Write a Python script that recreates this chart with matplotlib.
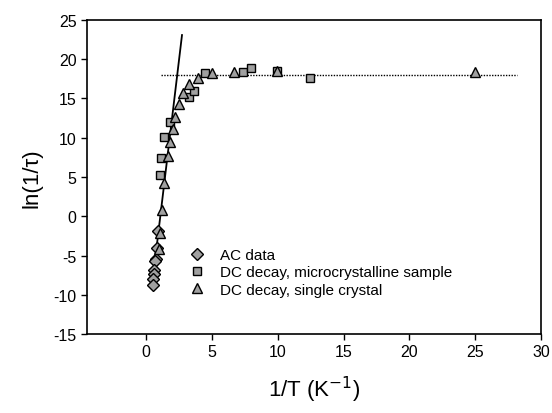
import matplotlib
matplotlib.use("Agg")
import matplotlib.pyplot as plt
import numpy as np

plt.rcParams['font.family'] = ['Liberation Sans', 'DejaVu Sans']
plt.rcParams['axes.unicode_minus'] = False

# AC data (diamonds)
ac_x = [0.89, 0.81, 0.71, 0.66, 0.61, 0.60, 0.55, 0.55]
ac_y = [-1.9, -4.0, -5.4, -5.7, -6.9, -7.4, -8.0, -8.8]

# DC decay, microcrystalline sample (squares)
mc_x = [1.06, 1.16, 1.34, 1.82, 3.24, 3.60, 4.48, 7.39, 7.97, 9.95, 12.48]
mc_y = [5.25, 7.4, 10.1, 12.0, 15.2, 16.0, 18.2, 18.4, 18.85, 18.5, 17.65]

# DC decay, single crystal (triangles)
sc_x = [0.96, 1.06, 1.19, 1.37, 1.67, 1.80, 2.07, 2.20, 2.50, 2.79, 3.29, 3.97, 4.99, 6.66, 9.95, 25.0]
sc_y = [-4.2, -2.1, 0.8, 4.2, 7.7, 9.4, 11.1, 12.7, 14.3, 15.7, 16.85, 17.6, 18.25, 18.4, 18.5, 18.4]

# fits: Arrhenius line and plateau
fit_x = [0.5, 2.72]
fit_slope, fit_icpt = 14.0, -15.0
plateau_y = 18.0
plateau_x = [1.1, 28.2]

fig = plt.figure(figsize=(5.52, 4.14), dpi=100)
ax = fig.add_axes([0.1576, 0.1908, 0.8224, 0.7585])

fx = np.array(fit_x)
ax.plot(fx, fit_slope * fx + fit_icpt, color='black', lw=1.3, zorder=2)
ax.plot(plateau_x, [plateau_y, plateau_y], color='black', lw=1.0, ls=(0, (1, 1)), zorder=1)

fill = '#a0a0a0'
ax.plot(ac_x, ac_y, 'D', ms=5.8, mfc=fill, mec='black', mew=1.0, ls='none',
        label='AC data', zorder=3)
ax.plot(mc_x, mc_y, 's', ms=5.8, mfc=fill, mec='black', mew=1.0, ls='none',
        label='DC decay, microcrystalline sample', zorder=3)
ax.plot(sc_x, sc_y, '^', ms=6.8, mfc=fill, mec='black', mew=1.0, ls='none',
        label='DC decay, single crystal', zorder=4)

ax.set_xlim(-4.5, 30)
ax.set_ylim(-15, 25)
ax.set_xticks(range(0, 31, 5))
ax.set_yticks(range(-15, 26, 5))
ax.tick_params(direction='out', length=4, width=1, labelsize=11.5, top=False, right=False)
for s in ax.spines.values():
    s.set_linewidth(1.2)

ax.set_xlabel('1/T (K$^{-1}$)', fontsize=16, labelpad=10)
ax.set_ylabel('ln(1/\u03c4)', fontsize=16, labelpad=8)

ax.legend(loc='upper left', bbox_to_anchor=(0.222, 0.274), frameon=False, fontsize=11,
          handletextpad=0.9, labelspacing=0.22, borderaxespad=0, borderpad=0,
          handlelength=1.2)

fig.savefig('out.png', dpi=100)
